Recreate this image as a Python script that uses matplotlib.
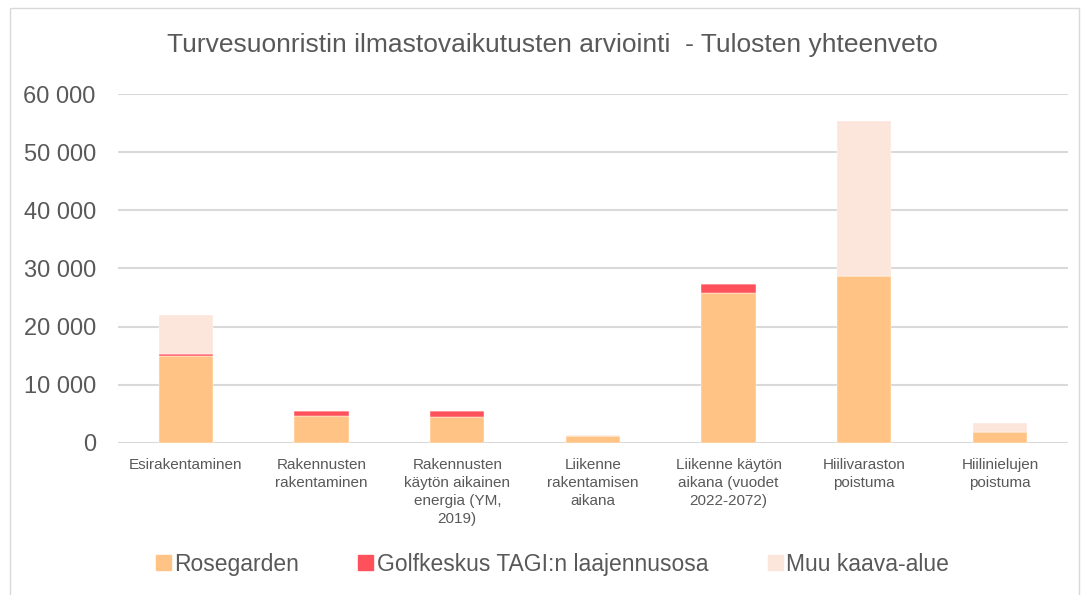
import matplotlib.pyplot as plt
import matplotlib.patches as mpatches
import numpy as np

plt.rcParams['font.family'] = ['Liberation Sans', 'DejaVu Sans']

categories = ["Esirakentaminen", "Rakennusten\nrakentaminen", "Rakennusten\nkäytön aikainen\nenergia (YM,\n2019)",
              "Liikenne\nrakentamisen\naikana", "Liikenne käytön\naikana (vuodet\n2022-2072)", "Hiilivaraston\npoistuma",
              "Hiilinielujen\npoistuma"]
rosegarden = [14900, 4650, 4400, 1150, 25800, 28700, 1850]
golfkeskus = [400, 900, 1100, 50, 1600, 0, 0]
muu = [6700, 0, 0, 100, 0, 26600, 1550]
series_names = ["Rosegarden", "Golfkeskus TAGI:n laajennusosa", "Muu kaava-alue"]
colors = ["#FFC385", "#FF515B", "#FCE5DB"]

text_col = "#595959"

fig = plt.figure(figsize=(10.83, 5.95), dpi=100)
ax = fig.add_axes([0.109, 0.2555, 0.877, 0.5865])

x = np.arange(len(categories))
w = 0.4
bottom = np.zeros(len(categories))
for vals, name, c in zip([rosegarden, golfkeskus, muu], series_names, colors):
    ax.bar(x, vals, w, bottom=bottom, color=c, label=name, edgecolor="white", linewidth=0.3, zorder=3)
    bottom += np.array(vals)

ax.set_xlim(-0.5, len(categories) - 0.5)
ax.set_ylim(0, 60000)
ax.set_yticks(np.arange(0, 60001, 10000))
ax.set_yticklabels([f"{v:,}".replace(",", " ") for v in range(0, 60001, 10000)], fontsize=17, color=text_col)
ax.set_xticks(x)
ax.set_xticklabels(categories, fontsize=11, color=text_col, linespacing=1.35)
ax.tick_params(length=0, pad=11)
ax.tick_params(axis="y", pad=16)
ax.grid(axis="y", color="#D9D9D9", linewidth=1.5, zorder=0)
for s in ax.spines.values():
    s.set_visible(False)

fig.text(0.51, 0.925, "Turvesuonristin ilmastovaikutusten arviointi  - Tulosten yhteenveto",
         ha="center", va="center", fontsize=19, color=text_col)

handles = [mpatches.Patch(color=c, label=n) for c, n in zip(colors, series_names)]
fig.legend(handles=handles, loc="center", bbox_to_anchor=(0.51, 0.052), ncol=3, frameon=False,
           fontsize=16.5, labelcolor=text_col, handlelength=0.65, handleheight=0.65, handletextpad=0.15,
           columnspacing=2.6)

fig.patches.append(mpatches.Rectangle((10 / 1083, -0.01), 1069 / 1083, 1 - 8 / 595 + 0.01,
                                      transform=fig.transFigure, fill=False, edgecolor="#D9D9D9", linewidth=1))

fig.savefig("out.png", dpi=100)
